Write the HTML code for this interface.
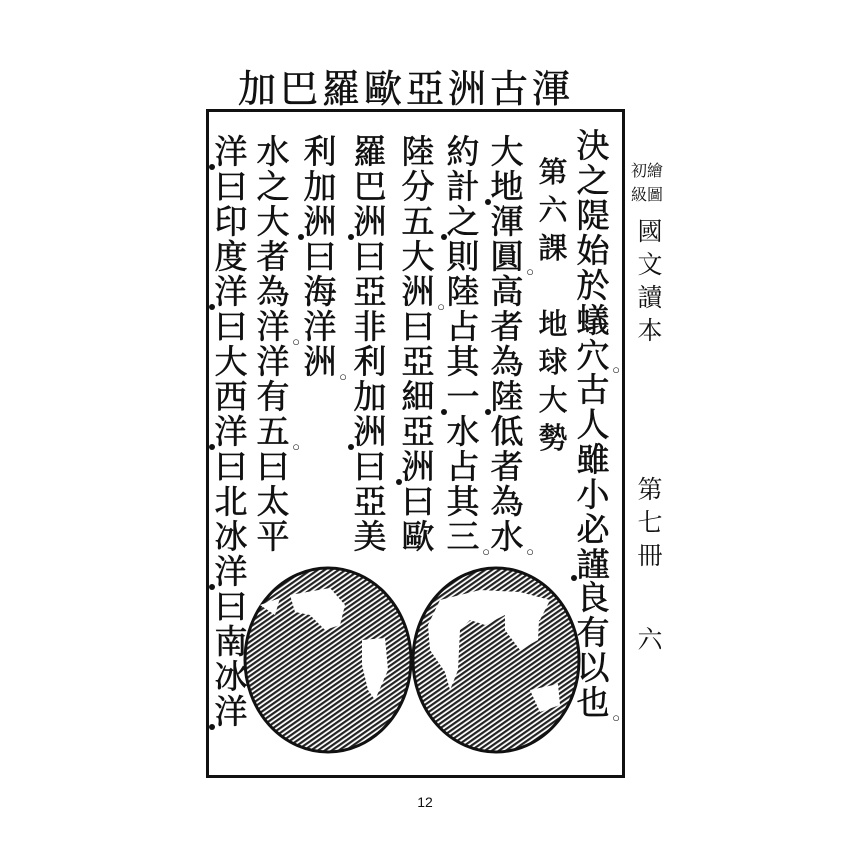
<!DOCTYPE html>
<html><head><meta charset="utf-8"><style>
body{margin:0;width:850px;height:850px;background:#fff;position:relative;overflow:hidden;font-family:"Liberation Serif","Noto Serif CJK SC","Noto Sans CJK TC",serif;color:#111}
.t{position:absolute;top:68px;font-size:38px;line-height:44px;width:42px;text-align:center;-webkit-text-stroke:0.6px #111}
.frame{position:absolute;left:206px;top:109px;width:419px;height:669px;border:3px solid #111;box-sizing:border-box}
.col{position:absolute;width:36px;font-size:33px;text-align:center;-webkit-text-stroke:0.7px #111}
.col div{height:35px;line-height:35px;position:relative;overflow:visible}
.col i{position:absolute;font-style:normal;font-size:13px;line-height:13px;right:-9px;bottom:-2px;-webkit-text-stroke:0}
.col s{position:absolute;text-decoration:none;width:6px;height:6px;border-radius:3px;background:#111;left:-4px;bottom:1px}
.m{position:absolute;font-size:25px;line-height:33px;width:30px;text-align:center}
</style></head><body>
<div class="t" style="left:236px">加</div><div class="t" style="left:278px">巴</div><div class="t" style="left:320px">羅</div><div class="t" style="left:362px">歐</div><div class="t" style="left:404px">亞</div><div class="t" style="left:446px">洲</div><div class="t" style="left:488px">古</div><div class="t" style="left:530px">渾</div>
<div class="frame"></div>

<svg style="position:absolute;left:0;top:0" width="850" height="850">
<defs><pattern id="h" width="4" height="4" patternUnits="userSpaceOnUse" patternTransform="rotate(-35)"><rect width="4" height="4" fill="#fff"/><rect width="4" height="2.2" fill="#222"/></pattern></defs>
<ellipse cx="328" cy="660" rx="83" ry="92" fill="url(#h)" stroke="#111" stroke-width="3"/>
<ellipse cx="496" cy="660" rx="83" ry="92" fill="url(#h)" stroke="#111" stroke-width="3"/>
<path d="M290 595 L330 588 L345 605 L340 625 L325 630 L310 615 L295 612Z" fill="#fff"/>
<path d="M362 640 L385 638 L388 670 L375 700 L368 690 L362 665Z" fill="#fff"/>
<path d="M260 605 L280 598 L275 615Z" fill="#fff"/>
<path d="M440 600 L480 590 L520 592 L550 600 L540 620 L520 625 L505 615 L485 625 L470 620 L460 630 L458 670 L450 690 L445 672 L430 650 L428 625Z" fill="#fff"/>
<path d="M530 690 L558 684 L560 705 L540 712Z" fill="#fff"/>
<path d="M505 605 L540 600 L538 640 L520 650 L505 630Z" fill="#fff"/>
</svg>

<div class="col" style="left:575px;top:130px"><div>決</div><div>之</div><div>隄</div><div>始</div><div>於</div><div>蟻</div><div style="height:34px">穴<i>○</i></div><div>古</div><div>人</div><div>雖</div><div>小</div><div>必</div><div style="height:33px">謹<s></s></div><div>良</div><div>有</div><div>以</div><div>也<i>○</i></div></div>
<div class="col" style="left:538px;top:156px;font-size:29px;width:30px"><div style="height:38px">第</div><div style="height:38px">六</div><div style="height:38px">課</div><div style="height:38px"></div><div style="height:38px">地</div><div style="height:38px">球</div><div style="height:38px">大</div><div style="height:38px">勢</div></div>
<div class="col" style="left:489px;top:136px"><div>大</div><div>地<s></s></div><div>渾</div><div>圓<i>○</i></div><div>高</div><div>者</div><div>為</div><div>陸<s></s></div><div>低</div><div>者</div><div>為</div><div>水<i>○</i></div></div>
<div class="col" style="left:445px;top:136px"><div>約</div><div>計</div><div>之<s></s></div><div>則</div><div>陸</div><div>占</div><div>其</div><div>一<s></s></div><div>水</div><div>占</div><div>其</div><div>三<i>○</i></div></div>
<div class="col" style="left:400px;top:136px"><div>陸</div><div>分</div><div>五</div><div>大</div><div>洲<i>○</i></div><div>曰</div><div>亞</div><div>細</div><div>亞</div><div>洲<s></s></div><div>曰</div><div>歐</div></div>
<div class="col" style="left:352px;top:136px"><div>羅</div><div>巴</div><div>洲<s></s></div><div>曰</div><div>亞</div><div>非</div><div>利</div><div>加</div><div>洲<s></s></div><div>曰</div><div>亞</div><div>美</div></div>
<div class="col" style="left:302px;top:136px"><div>利</div><div>加</div><div>洲<s></s></div><div>曰</div><div>海</div><div>洋</div><div>洲<i>○</i></div></div>
<div class="col" style="left:255px;top:136px"><div>水</div><div>之</div><div>大</div><div>者</div><div>為</div><div>洋<i>○</i></div><div>洋</div><div>有</div><div>五<i>○</i></div><div>曰</div><div>太</div><div>平</div></div>
<div class="col" style="left:213px;top:136px"><div>洋<s></s></div><div>曰</div><div>印</div><div>度</div><div>洋<s></s></div><div>曰</div><div>大</div><div>西</div><div>洋<s></s></div><div>曰</div><div>北</div><div>冰</div><div>洋<s></s></div><div>曰</div><div>南</div><div>冰</div><div>洋<s></s></div></div>

<div class="m" style="left:627px;top:160px;font-size:16px;line-height:24px;width:40px">初繪<br>級圖</div>
<div class="m" style="left:635px;top:216px">國<br>文<br>讀<br>本</div>
<div class="m" style="left:635px;top:474px">第<br>七<br>冊</div>
<div class="m" style="left:635px;top:624px">六</div>

<div style="position:absolute;left:0;width:850px;top:794px;text-align:center;font-family:'Liberation Sans',sans-serif;font-size:14px">12</div>
</body></html>
